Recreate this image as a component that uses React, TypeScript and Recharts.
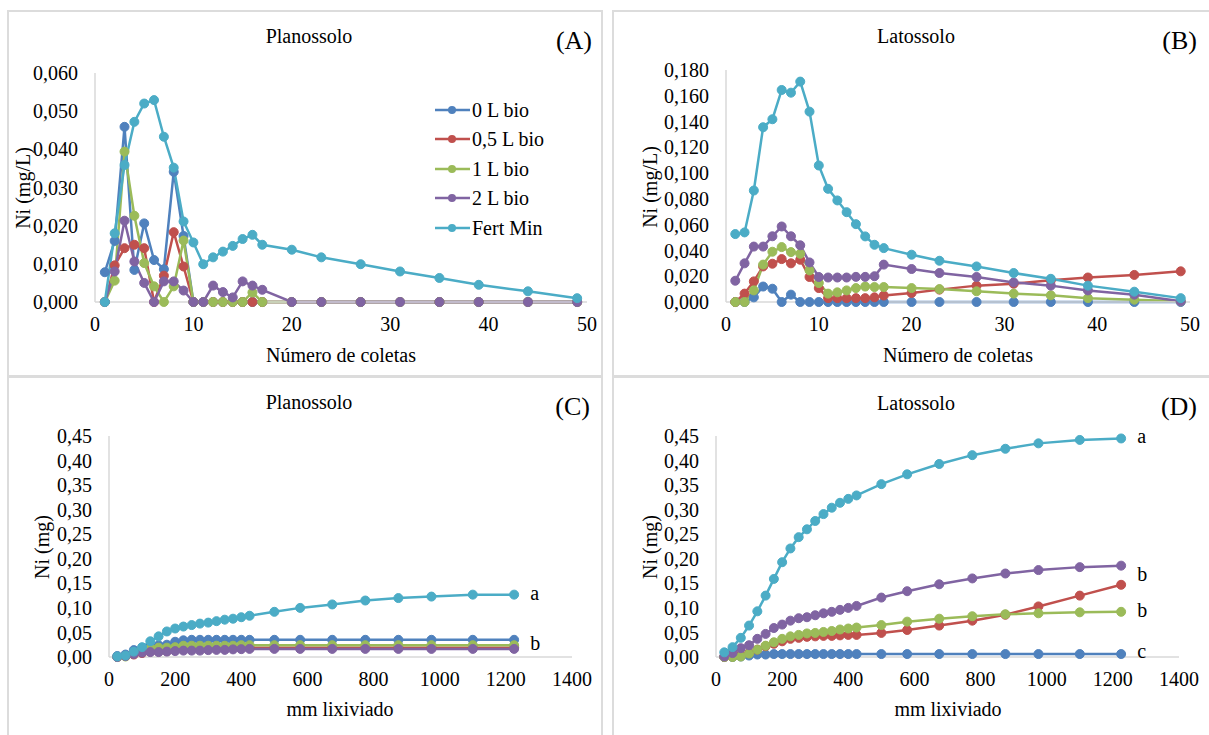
import React from 'react';
import { LineChart, Line, XAxis, YAxis, Legend, ReferenceDot, Label } from 'recharts';

const FONT = 'Liberation Serif, serif';

// ---- categories ----
const coletas = [1, 2, 3, 4, 5, 6, 7, 8, 9, 10, 11, 12, 13, 14, 15, 16, 17, 20, 23, 27, 31, 35, 39, 44, 49];
const mmLixiviado = [25, 50, 75, 100, 125, 150, 175, 200, 225, 250, 275, 300, 325, 350, 375, 400, 425, 500, 578, 675, 775, 875, 975, 1100, 1225];

const seriesKeys = ['L0', 'L05', 'L1', 'L2', 'FM'];
const seriesNames = ['0 L bio', '0,5 L bio', '1 L bio', '2 L bio', 'Fert Min'];
const seriesColors = ['#4F81BD', '#C0504D', '#9BBB59', '#8064A2', '#4BACC6'];

// ---- (A) Planossolo, Ni (mg/L) ----
const planA_0L = [0.0078, 0.016, 0.0459, 0.0084, 0.0206, 0.011, 0.0086, 0.0341, 0.0173, 0, 0, 0, 0, 0, 0, 0, 0, 0, 0, 0, 0, 0, 0, 0, 0];
const planA_05L = [0, 0.0096, 0.0141, 0.015, 0.0141, 0, 0.0069, 0.0183, 0.0093, 0, 0, 0, 0, 0, 0, 0, 0, 0, 0, 0, 0, 0, 0, 0, 0];
const planA_1L = [0, 0.0056, 0.0394, 0.0226, 0.0102, 0.0041, 0, 0.0041, 0.0161, 0, 0, 0, 0, 0, 0, 0.0025, 0, 0, 0, 0, 0, 0, 0, 0, 0];
const planA_2L = [0, 0.008, 0.0213, 0.0106, 0.005, 0, 0.0054, 0.0054, 0.003, 0, 0, 0.0043, 0.0026, 0.0012, 0.0054, 0.0043, 0.0032, 0, 0, 0, 0, 0, 0, 0, 0];
const planA_FM = [0, 0.018, 0.0359, 0.0472, 0.052, 0.0529, 0.0433, 0.0352, 0.0211, 0.0156, 0.0099, 0.0117, 0.0132, 0.0147, 0.0165, 0.0176, 0.015, 0.0137, 0.0117, 0.0099, 0.008, 0.0063, 0.0045, 0.0028, 0.001];

// ---- (B) Latossolo, Ni (mg/L) ----
const latB_0L = [0, 0, 0.0036, 0.012, 0.0103, 0, 0.0057, 0, 0, 0, 0, 0, 0, 0, 0, 0, 0, 0, 0, 0, 0, 0, 0, 0, 0];
const latB_05L = [0, 0.0065, 0.016, 0.0276, 0.0297, 0.0333, 0.03, 0.0328, 0.0194, 0.0108, 0.003, 0.003, 0.003, 0.003, 0.003, 0.0036, 0.005, 0.007, 0.0096, 0.0127, 0.0142, 0.0168, 0.019, 0.021, 0.0238];
const latB_1L = [0, 0, 0.009, 0.029, 0.039, 0.0426, 0.0387, 0.0374, 0.0245, 0.0147, 0.0065, 0.0075, 0.009, 0.0108, 0.012, 0.0116, 0.0116, 0.0108, 0.01, 0.0083, 0.0065, 0.0052, 0.003, 0.0018, 0.0005];
const latB_2L = [0.0165, 0.03, 0.043, 0.043, 0.051, 0.0586, 0.051, 0.044, 0.0307, 0.0194, 0.019, 0.019, 0.019, 0.0195, 0.0195, 0.02, 0.029, 0.0256, 0.0225, 0.0194, 0.0152, 0.0127, 0.009, 0.0057, 0.0005];
const latB_FM = [0.0527, 0.054, 0.0865, 0.1356, 0.1418, 0.1645, 0.1624, 0.171, 0.1477, 0.1059, 0.0878, 0.0788, 0.0697, 0.0604, 0.0509, 0.0444, 0.0418, 0.0367, 0.032, 0.0276, 0.0225, 0.018, 0.0127, 0.008, 0.003];

// ---- (C) Planossolo, Ni (mg) cumulative ----
const planC_0L = [0.002, 0.005, 0.014, 0.017, 0.021, 0.024, 0.025, 0.031, 0.034, 0.035, 0.035, 0.035, 0.035, 0.035, 0.035, 0.035, 0.035, 0.035, 0.035, 0.035, 0.035, 0.035, 0.035, 0.035, 0.035];
const planC_05L = [0, 0.002, 0.005, 0.008, 0.011, 0.011, 0.012, 0.017, 0.019, 0.019, 0.019, 0.019, 0.019, 0.019, 0.019, 0.019, 0.019, 0.019, 0.019, 0.019, 0.019, 0.019, 0.019, 0.019, 0.019];
const planC_1L = [0, 0.001, 0.009, 0.015, 0.018, 0.019, 0.019, 0.02, 0.023, 0.023, 0.023, 0.023, 0.023, 0.023, 0.023, 0.024, 0.024, 0.024, 0.024, 0.024, 0.024, 0.024, 0.024, 0.024, 0.024];
const planC_2L = [0, 0.002, 0.006, 0.009, 0.01, 0.01, 0.011, 0.012, 0.013, 0.013, 0.013, 0.014, 0.0145, 0.0145, 0.0155, 0.016, 0.0165, 0.0165, 0.0165, 0.0165, 0.0165, 0.0165, 0.0165, 0.0165, 0.0165];
const planC_FM = [0.001, 0.003, 0.011, 0.02, 0.032, 0.042, 0.052, 0.058, 0.062, 0.065, 0.068, 0.07, 0.073, 0.076, 0.078, 0.081, 0.084, 0.092, 0.1, 0.107, 0.115, 0.12, 0.123, 0.127, 0.127];

// ---- (D) Latossolo, Ni (mg) cumulative ----
const latD_0L = [0, 0, 0.001, 0.003, 0.005, 0.005, 0.006, 0.006, 0.006, 0.006, 0.006, 0.006, 0.006, 0.006, 0.006, 0.006, 0.006, 0.006, 0.006, 0.006, 0.006, 0.006, 0.006, 0.006, 0.006];
const latD_05L = [0, 0.001, 0.004, 0.008, 0.015, 0.022, 0.027, 0.032, 0.037, 0.039, 0.041, 0.042, 0.043, 0.043, 0.044, 0.045, 0.045, 0.049, 0.055, 0.064, 0.074, 0.086, 0.103, 0.125, 0.147];
const latD_1L = [0, 0, 0.001, 0.007, 0.015, 0.023, 0.03, 0.037, 0.042, 0.045, 0.048, 0.049, 0.051, 0.053, 0.056, 0.058, 0.06, 0.065, 0.072, 0.078, 0.083, 0.087, 0.089, 0.091, 0.092];
const latD_2L = [0.001, 0.008, 0.018, 0.024, 0.037, 0.047, 0.059, 0.066, 0.074, 0.079, 0.081, 0.085, 0.089, 0.092, 0.096, 0.1, 0.104, 0.121, 0.134, 0.148, 0.16, 0.17, 0.177, 0.183, 0.186];
const latD_FM = [0.0095, 0.02, 0.039, 0.064, 0.093, 0.125, 0.159, 0.193, 0.221, 0.244, 0.26, 0.277, 0.291, 0.304, 0.314, 0.322, 0.329, 0.352, 0.372, 0.393, 0.411, 0.424, 0.435, 0.442, 0.445];

// ---- ticks ----
const xTicksColetas = [0, 10, 20, 30, 40, 50];
const xTicksMm = [0, 200, 400, 600, 800, 1000, 1200, 1400];
const yTicksA = [0, 0.01, 0.02, 0.03, 0.04, 0.05, 0.06];
const yTicksB = [0, 0.02, 0.04, 0.06, 0.08, 0.1, 0.12, 0.14, 0.16, 0.18];
const yTicksCD = [0, 0.05, 0.1, 0.15, 0.2, 0.25, 0.3, 0.35, 0.4, 0.45];

// ---- significance letters ----
const lettersC = [
  { key: 'FM', text: 'a', dy: 5 },
  { key: 'L0', text: 'b', dy: 10 },
];
const lettersD = [
  { key: 'FM', text: 'a', dy: 5 },
  { key: 'L2', text: 'b', dy: 15 },
  { key: 'L1', text: 'b', dy: 5 },
  { key: 'L0', text: 'c', dy: 4 },
];

function buildRows(xs: number[], series: number[][]) {
  return xs.map((x, i) => {
    const row: any = { x };
    seriesKeys.forEach((k, j) => {
      row[k] = series[j][i];
    });
    return row;
  });
}

const legendContent = () => (
  <div style={{ fontFamily: FONT, fontSize: 20, color: '#000', lineHeight: 1 }}>
    {seriesNames.map((n, j) => (
      <div key={n} style={{ display: 'flex', alignItems: 'center', height: 29.5, whiteSpace: 'nowrap' }}>
        <svg width={35} height={12} style={{ marginRight: 2, flex: 'none' }}>
          <line x1={0} y1={6} x2={35} y2={6} stroke={seriesColors[j]} strokeWidth={2.5} />
          <circle cx={17} cy={6} r={4} fill={seriesColors[j]} />
        </svg>
        <span style={{ fontFamily: FONT }}>{n}</span>
      </div>
    ))}
  </div>
);

type PanelProps = {
  left: number; top: number; width: number; height: number;
  margin: { top: number; right: number; bottom: number; left: number };
  xs: number[]; series: number[][];
  xDomain: [number, number]; xTicks: number[];
  yDomain: [number, number]; yTicks: number[]; decimals: number;
  title: string; titleX: number; titleY: number;
  tag: string; tagX: number; tagY: number;
  xTitle: string; xTitleX: number; xTitleY: number;
  yTitle: string; yTitleX: number; yTitleY: number;
  legend?: boolean;
  letters?: { key: string; text: string; dy: number }[];
};

function Panel(p: PanelProps) {
  const rows = buildRows(p.xs, p.series);
  const lastIdx = p.xs.length - 1;
  const txt = { fontFamily: FONT };
  const overlay = () => (
    <g fill="#000">
      <text x={p.titleX} y={p.titleY} textAnchor="middle" fontSize={20} style={txt}>{p.title}</text>
      <text x={p.tagX} y={p.tagY} textAnchor="end" fontSize={26} style={txt}>{p.tag}</text>
      <text x={p.xTitleX} y={p.xTitleY} textAnchor="middle" fontSize={20} style={txt}>{p.xTitle}</text>
      <text
        transform={`translate(${p.yTitleX},${p.yTitleY}) rotate(-90)`}
        textAnchor="middle"
        dominantBaseline="central"
        fontSize={20}
        style={txt}
      >
        {p.yTitle}
      </text>
    </g>
  );
  const tickStyle = { fill: '#000', fontSize: 20, fontFamily: FONT, style: txt };
  return (
    <div style={{ position: 'absolute', left: p.left, top: p.top, width: p.width, height: p.height, fontFamily: FONT }}>
      <LineChart width={p.width} height={p.height} data={rows} margin={p.margin} style={{ fontFamily: FONT }}>
        <XAxis
          type="number"
          dataKey="x"
          domain={p.xDomain}
          ticks={p.xTicks}
          interval={0}
          axisLine={{ stroke: '#D9D9D9', strokeWidth: 1.5 }}
          tickLine={false}
          tick={tickStyle}
          tickMargin={9}
          height={60}
        >
          <Label content={overlay} />
        </XAxis>
        <YAxis
          type="number"
          domain={p.yDomain}
          ticks={p.yTicks}
          interval={0}
          tickFormatter={(v: number) => v.toFixed(p.decimals).replace('.', ',')}
          axisLine={{ stroke: '#D9D9D9', strokeWidth: 1.5 }}
          tickLine={false}
          tick={tickStyle}
          tickMargin={11}
          width={70}
        />
        {seriesKeys.map((k, j) => (
          <Line
            key={k}
            type="linear"
            dataKey={k}
            name={seriesNames[j]}
            stroke={seriesColors[j]}
            strokeWidth={2.5}
            dot={{ r: 4.5, fill: seriesColors[j], stroke: seriesColors[j], strokeWidth: 1 }}
            activeDot={false}
            isAnimationActive={false}
          />
        ))}
        {(p.letters || []).map((l, i) => (
          <ReferenceDot
            key={'lt' + i}
            x={p.xs[lastIdx]}
            y={p.series[seriesKeys.indexOf(l.key)][lastIdx]}
            r={2}
            fill="none"
            stroke="none"
            ifOverflow="visible"
            label={(lp: any) => {
              const vb = lp.viewBox || {};
              const cx = (vb.x ?? 0) + (vb.width ?? 0) / 2;
              const cy = (vb.y ?? 0) + (vb.height ?? 0) / 2;
              return (
                <text x={cx + 16} y={cy + l.dy} fontSize={20} fill="#000" style={txt}>
                  {l.text}
                </text>
              );
            }}
          />
        ))}
        {p.legend && (
          <Legend
            layout="horizontal"
            verticalAlign="middle"
            align="center"
            wrapperStyle={{ position: 'absolute', left: 435, top: 95, width: 150 }}
            content={legendContent}
          />
        )}
      </LineChart>
    </div>
  );
}

const boxStyle = (left: number, top: number, width: number, height: number): React.CSSProperties => ({
  position: 'absolute', left, top, width, height, border: '2px solid #DCDCDC', boxSizing: 'border-box',
});

export default function App() {
  return (
    <div style={{ position: 'absolute', left: 0, top: 0, width: 1209, height: 735, background: '#fff', overflow: 'hidden', fontFamily: FONT }}>
      <div style={boxStyle(7, 10, 596, 367)} />
      <div style={boxStyle(612, 10, 610, 367)} />
      <div style={boxStyle(7, 376, 596, 380)} />
      <div style={boxStyle(612, 376, 610, 380)} />
      <Panel
        left={0} top={0} width={604} height={376}
        margin={{ top: 73, right: 17, bottom: 14, left: 25 }}
        xs={coletas} series={[planA_0L, planA_05L, planA_1L, planA_2L, planA_FM]}
        xDomain={[0, 50]} xTicks={xTicksColetas}
        yDomain={[0, 0.06]} yTicks={yTicksA} decimals={3}
        title="Planossolo" titleX={309} titleY={43}
        tag="(A)" tagX={592} tagY={49}
        xTitle="Número de coletas" xTitleX={341} xTitleY={362}
        yTitle="Ni (mg/L)" yTitleX={23} yTitleY={188}
        legend
      />
      <Panel
        left={604} top={0} width={605} height={376}
        margin={{ top: 70, right: 19, bottom: 14, left: 52 }}
        xs={coletas} series={[latB_0L, latB_05L, latB_1L, latB_2L, latB_FM]}
        xDomain={[0, 50]} xTicks={xTicksColetas}
        yDomain={[0, 0.18]} yTicks={yTicksB} decimals={3}
        title="Latossolo" titleX={312} titleY={43}
        tag="(B)" tagX={593} tagY={49}
        xTitle="Número de coletas" xTitleX={354} xTitleY={362}
        yTitle="Ni (mg/L)" yTitleX={46} yTitleY={187}
      />
      <Panel
        left={0} top={376} width={604} height={359}
        margin={{ top: 60, right: 32, bottom: 18, left: 39 }}
        xs={mmLixiviado} series={[planC_0L, planC_05L, planC_1L, planC_2L, planC_FM]}
        xDomain={[0, 1400]} xTicks={xTicksMm}
        yDomain={[0, 0.45]} yTicks={yTicksCD} decimals={2}
        title="Planossolo" titleX={309} titleY={33}
        tag="(C)" tagX={590} tagY={39}
        xTitle="mm lixiviado" xTitleX={340} xTitleY={340}
        yTitle="Ni (mg)" yTitleX={42} yTitleY={171}
        letters={lettersC}
      />
      <Panel
        left={604} top={376} width={605} height={359}
        margin={{ top: 60, right: 30, bottom: 18, left: 42 }}
        xs={mmLixiviado} series={[latD_0L, latD_05L, latD_1L, latD_2L, latD_FM]}
        xDomain={[0, 1400]} xTicks={xTicksMm}
        yDomain={[0, 0.45]} yTicks={yTicksCD} decimals={2}
        title="Latossolo" titleX={312} titleY={34}
        tag="(D)" tagX={593} tagY={39}
        xTitle="mm lixiviado" xTitleX={344} xTitleY={340}
        yTitle="Ni (mg)" yTitleX={46} yTitleY={171}
        letters={lettersD}
      />
    </div>
  );
}
